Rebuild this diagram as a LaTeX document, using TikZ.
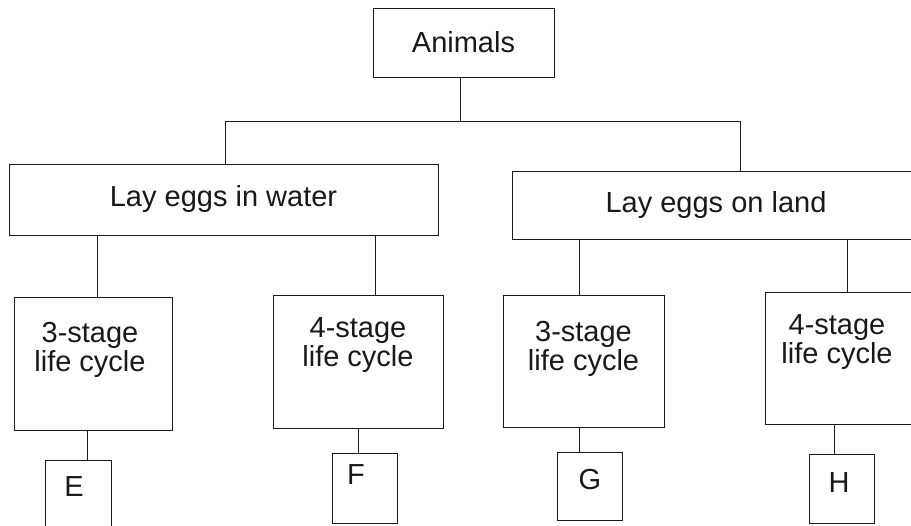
\documentclass[tikz,border=0pt]{standalone}
\usepackage{fontspec}
\setmainfont{Liberation Sans}
\begin{document}
\begin{tikzpicture}[x=1pt,y=-1pt,
  box/.style={draw=black!90, line width=0.9pt, rectangle, inner sep=0pt, outer sep=0pt},
  txt/.style={font=\fontsize{29}{29}\selectfont, inner sep=0pt, align=center, text=black!90},
  link/.style={draw=black!90, line width=0.9pt}]
\useasboundingbox (0,0) rectangle (911,526);
\clip (0,0) rectangle (911,526);
\fill[white] (0,0) rectangle (911,526);
% top levels
\node[box, txt, minimum width=181pt, minimum height=69pt] (animals) at (463.5,42.5) {Animals};
\node[box, txt, minimum width=429pt, minimum height=71pt] (water) at (223.5,199.5) {Lay eggs in water};
\node[box, txt, minimum width=408pt, minimum height=68pt] (land) at (716,205) {Lay eggs on land};
% stage boxes
\node[box, minimum width=158pt, minimum height=133pt,
  label={[txt, anchor=north, yshift=-25pt, xshift=-3pt]north:3-stage\\life cycle}] (wa) at (93,363.5) {};
\node[box, minimum width=170pt, minimum height=133pt,
  label={[txt, anchor=north, yshift=-22pt]north:4-stage\\life cycle}] (wb) at (358,361.5) {};
\node[box, minimum width=161pt, minimum height=132pt,
  label={[txt, anchor=north, yshift=-26pt]north:3-stage\\life cycle}] (la) at (583.5,361) {};
\node[box, minimum width=150pt, minimum height=132pt,
  label={[txt, anchor=north, yshift=-22pt, xshift=-3pt]north:4-stage\\life cycle}] (lb) at (840,358) {};
% letter boxes
\node[box, minimum width=66pt, minimum height=80pt,
  label={[txt, anchor=center, xshift=-4pt, yshift=13pt]center:E}] (e) at (78,500) {};
\node[box, minimum width=65pt, minimum height=70pt,
  label={[txt, anchor=center, xshift=-8.5pt, yshift=13pt]center:F}] (f) at (364.5,488) {};
\node[box, minimum width=65pt, minimum height=68pt,
  label={[txt, anchor=center, xshift=0.5pt, yshift=6pt]center:G}] (g) at (589.5,486) {};
\node[box, minimum width=65pt, minimum height=69pt,
  label={[txt, anchor=center, xshift=-2.5pt, yshift=5.5pt]center:H}] (h) at (841.5,488.5) {};
% connectors
\coordinate (bar) at (0,121);
\draw[link] ([xshift=-3.5pt]animals.south) -- ([xshift=-3.5pt]animals.south |- bar);
\draw[link] ([xshift=1.5pt]water.north) |- ([xshift=24pt]land.north |- bar) -- ([xshift=24pt]land.north);
\draw[link] ([xshift=4pt]wa.north) -- ([xshift=4pt]wa.north |- water.south);
\draw[link] ([xshift=17pt]wb.north) -- ([xshift=17pt]wb.north |- water.south);
\draw[link] ([xshift=-4.5pt]la.north) -- ([xshift=-4.5pt]la.north |- land.south);
\draw[link] ([xshift=7pt]lb.north) -- ([xshift=7pt]lb.north |- land.south);
\draw[link] ([xshift=9pt]e.north) -- ([xshift=9pt]e.north |- wa.south);
\draw[link] ([xshift=-6.5pt]f.north) -- ([xshift=-6.5pt]f.north |- wb.south);
\draw[link] ([xshift=-10.5pt]g.north) -- ([xshift=-10.5pt]g.north |- la.south);
\draw[link] ([xshift=-7.5pt]h.north) -- ([xshift=-7.5pt]h.north |- lb.south);
\end{tikzpicture}
\end{document}
